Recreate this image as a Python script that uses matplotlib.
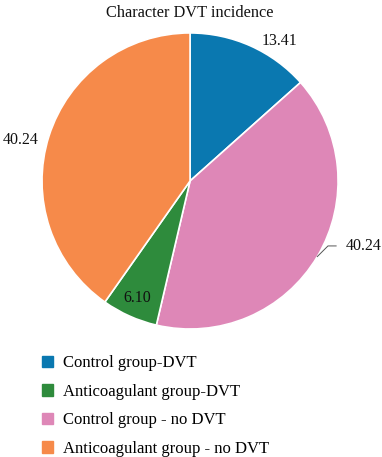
import numpy as np
import matplotlib
matplotlib.use("Agg")
import matplotlib.pyplot as plt

# data
categories = ["Control group-DVT", "Anticoagulant group-DVT",
              "Control group - no DVT", "Anticoagulant group - no DVT"]
values = [13.41, 6.10, 40.24, 40.24]
value_labels = ["13.41", "6.10", "40.24", "40.24"]
colors = ["#0A78B0", "#2E8B3C", "#DE87B7", "#F68A4A"]

# drawing order clockwise from 12 o'clock: blue, pink, green, orange
order = [0, 2, 1, 3]

plt.rcParams["font.family"] = ["Liberation Serif", "DejaVu Serif"]

fig = plt.figure(figsize=(3.82, 4.57), dpi=100)
ax = fig.add_axes([0.110, 0.280, 0.775, 0.648])

wedges, _ = ax.pie([values[i] for i in order],
                   colors=[colors[i] for i in order],
                   startangle=90, counterclock=False,
                   wedgeprops=dict(edgecolor="white", linewidth=1.2))
ax.set_aspect("equal")
ax.set_xlim(-1, 1)
ax.set_ylim(-1, 1)

# label placement per wedge: (radius factor, angle offset, ha)
place = {0: (1.06, -3, "left"), 2: (1.03, 5.5, "left"),
         1: (0.865, 0, "center"), 3: (1.18, 4, "center")}
for w, i in zip(wedges, order):
    mid = np.deg2rad((w.theta1 + w.theta2) / 2)
    r, off, ha = place[i]
    a = mid + np.deg2rad(off)
    x, y = r * np.cos(a), r * np.sin(a)
    if i == 2:
        # leader line for the pink slice
        x0, y0 = np.cos(mid), np.sin(mid)
        ax.plot([x0, x, x + 0.055], [y0, y, y], color="#555555", lw=0.7,
                clip_on=False)
        x = x + 0.12
    ax.text(x, y, value_labels[i], ha=ha, va="center", fontsize=11.5,
            color="#111111")

fig.text(0.497, 0.99, "Character DVT incidence", ha="center", va="top",
         fontsize=11.8, color="#111111")

handles = [plt.Rectangle((0, 0), 1, 1, color=c) for c in colors]
fig.legend(handles, categories, loc="upper left",
           bbox_to_anchor=(0.092, 0.237), frameon=False, fontsize=12,
           handlelength=0.65, handleheight=0.65, handletextpad=0.6,
           labelspacing=0.75, borderaxespad=0)

fig.savefig("out.png", dpi=100)
